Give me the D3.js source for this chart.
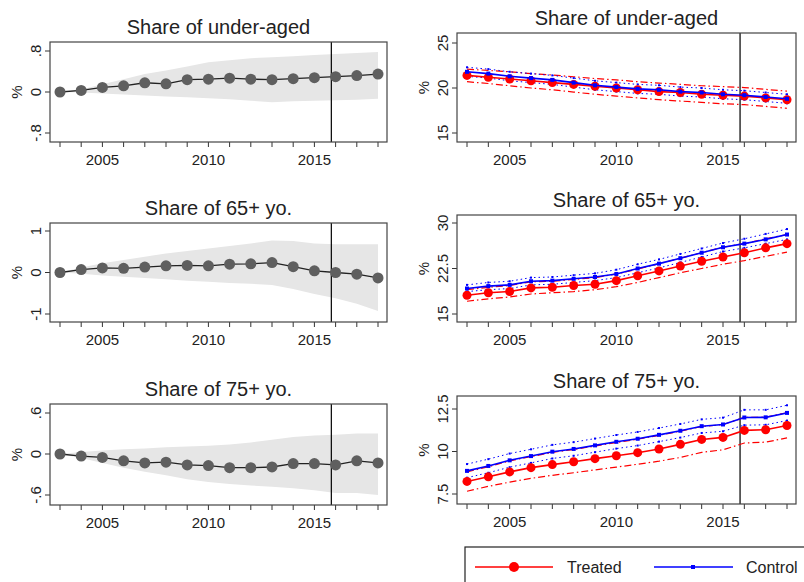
<!DOCTYPE html>
<html>
<head>
<meta charset="utf-8">
<script src="https://cdn.jsdelivr.net/npm/d3@7"></script>
<style>
  body { margin: 0; background: #fff; }
  text { font-family: "Liberation Sans", Arial, sans-serif; fill: #222; }
</style>
</head>
<body>
<svg id="chart" width="804" height="582"></svg>
<script>
var years = d3.range(2003, 2019);
var cutoff = 2015.8;

// difference panels (left)
var underDiff = [0, 0.03, 0.09, 0.12, 0.18, 0.16, 0.24, 0.25, 0.27, 0.25, 0.24, 0.26, 0.28, 0.3, 0.32, 0.35];
var underHi = [0, 0.05, 0.15, 0.25, 0.35, 0.42, 0.5, 0.58, 0.62, 0.66, 0.68, 0.7, 0.72, 0.74, 0.76, 0.78];
var underLo = [0, -0.01, -0.03, -0.05, -0.07, -0.09, -0.1, -0.12, -0.14, -0.17, -0.2, -0.18, -0.17, -0.16, -0.15, -0.13];

var old65Diff = [0, 0.07, 0.11, 0.1, 0.13, 0.16, 0.17, 0.16, 0.2, 0.21, 0.24, 0.14, 0.04, 0, -0.04, -0.13];
var old65Hi = [0, 0.12, 0.22, 0.3, 0.38, 0.46, 0.52, 0.58, 0.64, 0.7, 0.77, 0.76, 0.7, 0.68, 0.68, 0.68];
var old65Lo = [0, -0.03, -0.07, -0.1, -0.13, -0.16, -0.2, -0.22, -0.25, -0.27, -0.3, -0.4, -0.52, -0.62, -0.75, -0.93];

var old75Diff = [0, -0.03, -0.05, -0.1, -0.13, -0.12, -0.16, -0.17, -0.2, -0.2, -0.19, -0.14, -0.14, -0.16, -0.1, -0.13];
var old75Hi = [0, 0.03, 0.05, 0.07, 0.08, 0.1, 0.11, 0.12, 0.14, 0.17, 0.21, 0.25, 0.27, 0.28, 0.3, 0.3];
var old75Lo = [0, -0.06, -0.13, -0.2, -0.26, -0.31, -0.37, -0.41, -0.44, -0.46, -0.48, -0.5, -0.53, -0.57, -0.57, -0.6];

// level panels (right)
var underTreated = [21.4, 21.2, 21.0, 20.8, 20.6, 20.4, 20.2, 20.0, 19.8, 19.6, 19.5, 19.3, 19.2, 19.1, 18.9, 18.7];
var underControl = [21.8, 21.6, 21.3, 21.1, 20.9, 20.6, 20.3, 20.1, 19.9, 19.8, 19.6, 19.5, 19.3, 19.2, 19.0, 18.8];
var underTreatedHi = [22.1, 21.95, 21.8, 21.6, 21.45, 21.25, 21.05, 20.9, 20.7, 20.55, 20.4, 20.25, 20.15, 20.05, 19.85, 19.65];
var underTreatedLo = [20.7, 20.5, 20.25, 20.0, 19.8, 19.55, 19.3, 19.1, 18.9, 18.7, 18.55, 18.4, 18.25, 18.15, 17.95, 17.75];
var underControlHi = [22.3, 22.1, 21.8, 21.6, 21.4, 21.1, 20.8, 20.6, 20.4, 20.3, 20.1, 20.0, 19.8, 19.7, 19.5, 19.3];
var underControlLo = [21.3, 21.1, 20.8, 20.6, 20.4, 20.1, 19.8, 19.6, 19.4, 19.3, 19.1, 19.0, 18.8, 18.7, 18.5, 18.3];

var old65Treated = [18.1, 18.5, 18.7, 19.3, 19.4, 19.7, 19.9, 20.5, 21.3, 22.1, 22.9, 23.7, 24.4, 25.1, 25.9, 26.6];
var old65Control = [19.2, 19.6, 19.8, 20.4, 20.5, 20.8, 21.1, 21.6, 22.5, 23.3, 24.2, 25.1, 26.0, 26.6, 27.3, 28.1];
var old65TreatedHi = [19.0, 19.4, 19.7, 20.3, 20.4, 20.7, 21.0, 21.6, 22.4, 23.3, 24.2, 25.1, 26.0, 26.6, 27.4, 28.1];
var old65TreatedLo = [17.1, 17.5, 17.8, 18.3, 18.5, 18.7, 19.0, 19.5, 20.2, 21.0, 21.8, 22.5, 23.2, 23.8, 24.5, 25.2];
var old65ControlHi = [19.8, 20.2, 20.4, 21.0, 21.1, 21.4, 21.7, 22.3, 23.2, 24.0, 24.9, 25.8, 26.7, 27.4, 28.2, 29.0];
var old65ControlLo = [18.7, 19.0, 19.2, 19.8, 19.9, 20.2, 20.5, 21.0, 21.8, 22.6, 23.5, 24.4, 25.3, 25.9, 26.6, 27.3];

var old75Treated = [8.24, 8.51, 8.8, 9.05, 9.23, 9.4, 9.58, 9.75, 9.93, 10.15, 10.42, 10.71, 10.83, 11.24, 11.28, 11.53];
var old75Control = [8.86, 9.15, 9.48, 9.73, 9.99, 10.15, 10.36, 10.57, 10.75, 10.98, 11.22, 11.49, 11.59, 12.0, 12.01, 12.27];
var old75TreatedHi = [8.8, 9.1, 9.45, 9.7, 9.95, 10.12, 10.32, 10.53, 10.72, 10.95, 11.2, 11.47, 11.58, 12.0, 12.02, 12.28];
var old75TreatedLo = [7.66, 7.95, 8.2, 8.42, 8.6, 8.75, 8.92, 9.08, 9.25, 9.43, 9.65, 9.95, 10.1, 10.5, 10.55, 10.8];
var old75ControlHi = [9.26, 9.55, 9.88, 10.13, 10.39, 10.55, 10.76, 10.97, 11.15, 11.38, 11.62, 11.89, 11.99, 12.45, 12.45, 12.72];
var old75ControlLo = [8.46, 8.75, 9.08, 9.33, 9.59, 9.75, 9.96, 10.17, 10.35, 10.58, 10.82, 11.09, 11.19, 11.55, 11.57, 11.82];

var titles = ["Share of under-aged", "Share of 65+ yo.", "Share of 75+ yo."];
var leftTicks = [[-0.8, 0, 0.8], [-1, 0, 1], [-0.6, 0, 0.6]];
var leftTickLabels = [["-.8", "0", ".8"], ["-1", "0", "1"], ["-.6", "0", ".6"]];
var rightTicks = [[15, 20, 25], [15, 22.5, 30], [7.5, 10, 12.5]];
var rightTickLabels = [["15", "20", "25"], ["15", "22.5", "30"], ["7.5", "10", "12.5"]];
var xTicks = [2005, 2010, 2015];

var svg = d3.select("#chart");

function panel(box, yDomain, ticks, tickLabels, title) {
  var x = d3.scaleLinear().domain([2003, 2018]).range([box.x0 + 10, box.x1 - 9]);
  var y = d3.scaleLinear().domain(yDomain).range([box.yb, box.yt]);
  var g = svg.append("g");
  g.append("text").attr("x", (box.x0 + box.x1) / 2).attr("y", box.y0 - 8)
    .attr("text-anchor", "middle").style("font-size", "20px").text(title);
  // y axis
  ticks.forEach(function (t, i) {
    g.append("line").attr("x1", box.x0 - 5).attr("x2", box.x0).attr("y1", y(t)).attr("y2", y(t)).attr("stroke", "#333");
    g.append("text").attr("transform", "translate(" + (box.x0 - 9) + "," + y(t) + ") rotate(-90)")
      .attr("text-anchor", "middle").style("font-size", "15px").text(tickLabels[i]);
  });
  g.append("text").attr("transform", "translate(" + (box.x0 - 28) + "," + ((box.y0 + box.y1) / 2) + ") rotate(-90)")
    .attr("text-anchor", "middle").style("font-size", "15px").text("%");
  // x axis
  years.forEach(function (yr) {
    g.append("line").attr("x1", x(yr)).attr("x2", x(yr)).attr("y1", box.y1).attr("y2", box.y1 + 5).attr("stroke", "#333");
  });
  if (box.xlabels) {
    xTicks.forEach(function (yr) {
      g.append("text").attr("x", x(yr)).attr("y", box.y1 + 23).attr("text-anchor", "middle")
        .style("font-size", "15px").text(yr);
    });
  }
  return { g: g, x: x, y: y, box: box };
}

function frame(p) {
  var b = p.box;
  p.g.append("line").attr("x1", p.x(cutoff)).attr("x2", p.x(cutoff)).attr("y1", b.y0).attr("y2", b.y1).attr("stroke", "#111").attr("stroke-width", 1.3);
  p.g.append("rect").attr("x", b.x0).attr("y", b.y0).attr("width", b.x1 - b.x0).attr("height", b.y1 - b.y0)
    .attr("fill", "none").attr("stroke", "#444").attr("stroke-width", 1.2);
}

function leftPanel(i, box, est, hi, lo) {
  var dom = [leftTicks[i][0], leftTicks[i][2]];
  var p = panel(box, dom, leftTicks[i], leftTickLabels[i], titles[i]);
  var area = d3.area().x(function (d, j) { return p.x(years[j]); })
    .y0(function (d, j) { return p.y(lo[j]); }).y1(function (d) { return p.y(d); });
  p.g.append("path").datum(hi).attr("d", area).attr("fill", "#e6e6e6");
  frame(p);
  var line = d3.line().x(function (d, j) { return p.x(years[j]); }).y(function (d) { return p.y(d); });
  p.g.append("path").datum(est).attr("d", line).attr("fill", "none").attr("stroke", "#222").attr("stroke-width", 1.3);
  p.g.selectAll("circle.pt").data(est).enter().append("circle")
    .attr("cx", function (d, j) { return p.x(years[j]); }).attr("cy", function (d) { return p.y(d); })
    .attr("r", 5.5).attr("fill", "#5f5f5f");
}

function rightPanel(i, box, tr, co, trHi, trLo, coHi, coLo) {
  var dom = [rightTicks[i][0], rightTicks[i][2]];
  var p = panel(box, dom, rightTicks[i], rightTickLabels[i], titles[i]);
  frame(p);
  var line = d3.line().x(function (d, j) { return p.x(years[j]); }).y(function (d) { return p.y(d); });
  [trHi, trLo].forEach(function (s) {
    p.g.append("path").datum(s).attr("d", line).attr("fill", "none").attr("stroke", "red")
      .attr("stroke-width", 1.2).attr("stroke-dasharray", "7,3,1.5,3");
  });
  [coHi, coLo].forEach(function (s) {
    p.g.append("path").datum(s).attr("d", line).attr("fill", "none").attr("stroke", "blue")
      .attr("stroke-width", 1).attr("stroke-dasharray", "1.5,3");
    p.g.selectAll(null).data(s).enter().append("rect")
      .attr("x", function (d, j) { return p.x(years[j]) - 1; }).attr("y", function (d) { return p.y(d) - 1; })
      .attr("width", 2).attr("height", 2).attr("fill", "blue");
  });
  p.g.append("path").datum(tr).attr("d", line).attr("fill", "none").attr("stroke", "red").attr("stroke-width", 1.6);
  p.g.selectAll(null).data(tr).enter().append("circle")
    .attr("cx", function (d, j) { return p.x(years[j]); }).attr("cy", function (d) { return p.y(d); })
    .attr("r", 4.5).attr("fill", "red");
  p.g.append("path").datum(co).attr("d", line).attr("fill", "none").attr("stroke", "blue").attr("stroke-width", 1.6);
  p.g.selectAll(null).data(co).enter().append("rect")
    .attr("x", function (d, j) { return p.x(years[j]) - 2; }).attr("y", function (d) { return p.y(d) - 2; })
    .attr("width", 4).attr("height", 4).attr("fill", "blue");
}

leftPanel(0, { x0: 50, x1: 387, y0: 42, y1: 142, yt: 51, yb: 133, xlabels: true }, underDiff, underHi, underLo);
leftPanel(1, { x0: 50, x1: 387, y0: 223, y1: 322, yt: 231, yb: 314, xlabels: true }, old65Diff, old65Hi, old65Lo);
leftPanel(2, { x0: 50, x1: 387, y0: 404, y1: 505, yt: 413, yb: 495, xlabels: true }, old75Diff, old75Hi, old75Lo);

rightPanel(0, { x0: 457, x1: 796, y0: 33, y1: 142, yt: 43, yb: 133, xlabels: true },
  underTreated, underControl, underTreatedHi, underTreatedLo, underControlHi, underControlLo);
rightPanel(1, { x0: 457, x1: 796, y0: 215, y1: 322, yt: 223, yb: 314, xlabels: true },
  old65Treated, old65Control, old65TreatedHi, old65TreatedLo, old65ControlHi, old65ControlLo);
rightPanel(2, { x0: 457, x1: 796, y0: 396, y1: 504, yt: 409, yb: 494, xlabels: true },
  old75Treated, old75Control, old75TreatedHi, old75TreatedLo, old75ControlHi, old75ControlLo);

// legend
var lg = svg.append("g");
lg.append("rect").attr("x", 465).attr("y", 547).attr("width", 360).attr("height", 50)
  .attr("fill", "none").attr("stroke", "#222").attr("stroke-width", 1.2);
lg.append("line").attr("x1", 475).attr("x2", 553).attr("y1", 567).attr("y2", 567).attr("stroke", "red").attr("stroke-width", 1.6);
lg.append("circle").attr("cx", 514).attr("cy", 567).attr("r", 5).attr("fill", "red");
lg.append("text").attr("x", 567).attr("y", 573).style("font-size", "16px").text("Treated");
lg.append("line").attr("x1", 654).attr("x2", 733).attr("y1", 567).attr("y2", 567).attr("stroke", "blue").attr("stroke-width", 1.6);
lg.append("rect").attr("x", 691).attr("y", 565).attr("width", 4).attr("height", 4).attr("fill", "blue");
lg.append("text").attr("x", 746).attr("y", 573).style("font-size", "16px").text("Control");
</script>
</body>
</html>
